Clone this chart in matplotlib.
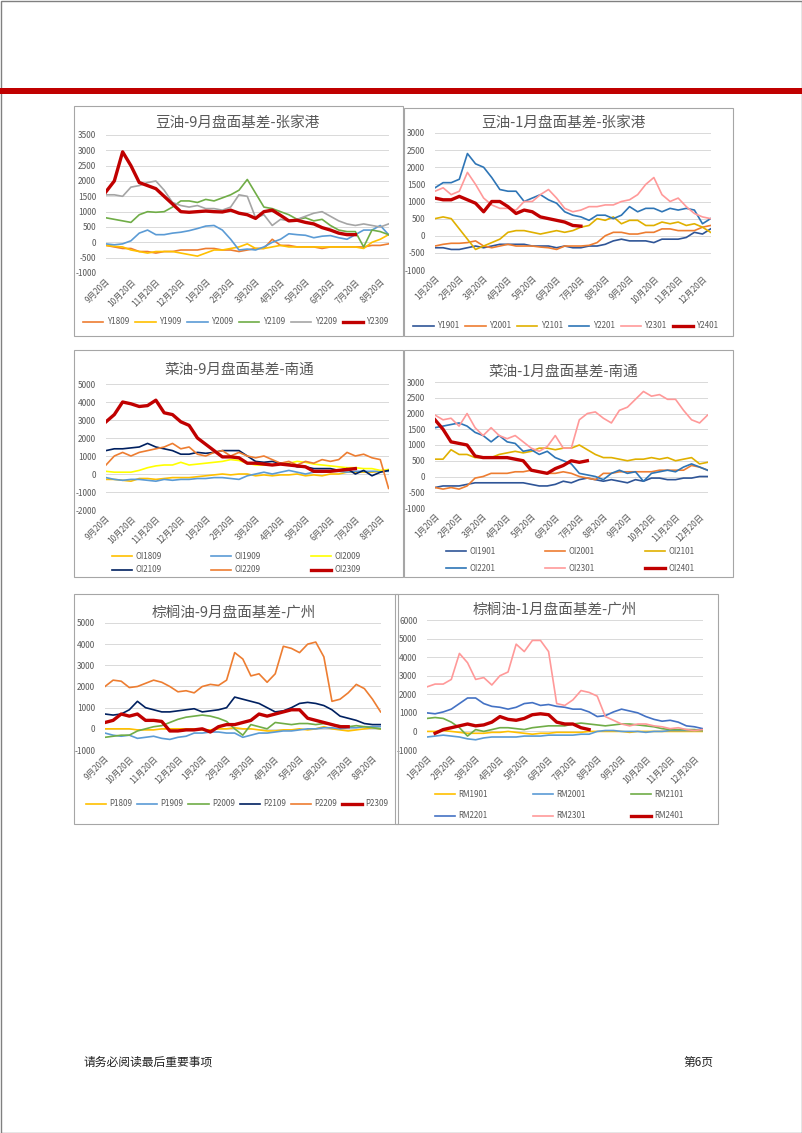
import numpy as np
import matplotlib
matplotlib.use("Agg")
import matplotlib.pyplot as plt
from matplotlib.patches import Rectangle

plt.rcParams['font.family'] = ['Noto Sans CJK SC', 'DejaVu Sans']
plt.rcParams['axes.unicode_minus'] = False

W, H = 802, 1133
RED = '#C00000'

sep_ticks = ['9月20日', '10月20日', '11月20日', '12月20日', '1月20日', '2月20日',
             '3月20日', '4月20日', '5月20日', '6月20日', '7月20日', '8月20日']
jan_ticks = ['1月20日', '2月20日', '3月20日', '4月20日', '5月20日', '6月20日',
             '7月20日', '8月20日', '9月20日', '10月20日', '11月20日', '12月20日']

# 豆油-9月 (one value every ~10 days)
y1809 = [-100, -150, -200, -200, -300, -300, -350, -300, -300, -250, -250, -250, -200, -200, -250, -250, -300, -250,
         -200, -200, 100, -100, -100, -150, -150, -150, -200, -150, -150, -150, -150, -150, -100, -100, -50]
y1909 = [-100, -130, -150, -250, -300, -350, -300, -300, -300, -350, -400, -450, -350, -250, -250, -200, -150, -50,
         -200, -200, -150, -100, -150, -150, -150, -150, -150, -150, -150, -150, -150, -200, 0, 100, 250]
y2009 = [-50, -80, -50, 50, 300, 400, 250, 250, 300, 330, 380, 450, 530, 550, 400, 100, -250, -220,
         -250, -150, 0, 100, 280, 250, 230, 150, 200, 220, 150, 100, 250, 400, 400, 550, 250]
y2109 = [800, 750, 700, 650, 900, 1000, 980, 1000, 1150, 1350, 1350, 1300, 1400, 1350, 1450, 1550, 1700, 2050,
         1600, 1150, 1100, 1000, 900, 750, 800, 700, 750, 550, 400, 350, 350, -150, 400, 350, 250]
y2209 = [1550, 1550, 1500, 1800, 1850, 1950, 2000, 1700, 1300, 1200, 1150, 1200, 1100, 1100, 1050, 1150, 1550, 1500,
         800, 900, 550, 750, 700, 750, 850, 950, 1000, 850, 700, 600, 550, 600, 550, 500, 600]
y2309 = [1650, 2000, 2950, 2500, 1950, 1850, 1750, 1500, 1250, 1000, 980, 1000, 1020, 1000, 990, 1050, 950, 900,
         780, 1000, 1050, 880, 700, 720, 650, 600, 480, 400, 300, 250, 250]

# 豆油-1月
y1901 = [-350, -350, -400, -400, -350, -300, -350, -300, -250, -250, -250, -250, -300, -300, -300, -350, -300, -350,
         -350, -300, -300, -250, -150, -100, -150, -150, -150, -200, -100, -100, -100, -50, 100, 50, 200]
y2001 = [-300, -250, -220, -220, -200, -150, -300, -350, -300, -250, -300, -300, -300, -330, -350, -400, -300, -300,
         -300, -280, -200, 0, 100, 100, 50, 50, 100, 100, 200, 200, 150, 150, 150, 250, 300]
y2101 = [500, 550, 500, 200, -100, -400, -300, -200, -100, 100, 150, 150, 100, 50, 100, 150, 100, 150,
         250, 300, 500, 450, 550, 350, 450, 450, 300, 300, 400, 350, 400, 300, 350, 250, 100]
y2201 = [1400, 1550, 1550, 1650, 2400, 2100, 2000, 1700, 1350, 1300, 1300, 1000, 1100, 1200, 1050, 950, 700, 600,
         550, 450, 600, 600, 500, 600, 850, 700, 800, 800, 700, 800, 750, 800, 750, 350, 500]
y2301 = [1300, 1400, 1200, 1300, 1850, 1500, 1100, 900, 800, 800, 750, 1000, 1000, 1200, 1350, 1100, 800, 700,
         750, 850, 850, 900, 900, 1000, 1050, 1200, 1500, 1700, 1200, 1000, 1100, 850, 650, 550, 500]
y2401 = [1100, 1050, 1050, 1150, 1050, 950, 700, 1000, 1000, 850, 650, 750, 700, 550, 500, 450, 400, 300, 280]

# 菜油-9月
oi1809 = [-300, -300, -350, -400, -250, -250, -300, -250, -200, -200, -200, -150, -100, -50, 0, -50, 0, 0,
          -100, -50, -100, -50, -50, 0, -100, -50, -100, 0, 0, 100, 100, 100, 100, 150, 200]
oi1909 = [-200, -300, -350, -300, -300, -350, -400, -300, -350, -300, -300, -250, -250, -200, -200, -250, -300, -100,
          0, 100, 0, 100, 200, 100, 0, 100, 100, 150, 150, 100, 150, 150, 150, 150, 150]
oi2009 = [150, 100, 100, 100, 200, 350, 450, 500, 500, 650, 500, 550, 600, 650, 700, 800, 750, 600,
          500, 500, 500, 550, 600, 700, 650, 550, 500, 450, 400, 350, 350, 300, 300, 200, 250]
oi2109 = [1300, 1400, 1400, 1450, 1500, 1700, 1500, 1400, 1300, 1100, 1100, 1200, 1150, 1200, 1300, 1300, 1300, 1000,
          700, 650, 700, 600, 550, 400, 400, 300, 300, 300, 200, 300, 0, 200, -100, 100, 200]
oi2209 = [500, 1000, 1200, 1000, 1200, 1300, 1400, 1500, 1700, 1400, 1500, 1100, 1000, 1200, 1300, 1000, 1200, 1000,
          900, 1000, 800, 600, 700, 500, 700, 600, 800, 700, 800, 1200, 1000, 1100, 900, 800, -800]
oi2309 = [2900, 3300, 4000, 3900, 3750, 3800, 4100, 3400, 3300, 2900, 2700, 2000, 1650, 1300, 950, 950, 900, 600,
          600, 550, 500, 550, 500, 450, 400, 150, 150, 150, 200, 250, 300]

# 菜油-1月
oi1901 = [-350, -300, -300, -300, -250, -200, -200, -200, -200, -200, -200, -200, -250, -300, -300, -250, -150, -200,
          -100, -50, -100, -150, -100, -150, -200, -100, -150, -50, -50, -100, -100, -50, -50, 0, 0]
oi2001 = [-350, -400, -350, -400, -300, -50, 0, 100, 100, 100, 150, 150, 200, 150, 100, 100, 150, 100,
          0, -50, -100, 100, 100, 150, 150, 150, 150, 150, 200, 200, 200, 200, 350, 300, 200]
oi2101 = [550, 550, 850, 700, 700, 600, 600, 600, 700, 750, 800, 750, 800, 900, 900, 850, 900, 900,
          1000, 850, 700, 600, 600, 550, 500, 550, 550, 600, 550, 600, 500, 550, 600, 400, 450]
oi2201 = [1550, 1600, 1650, 1700, 1600, 1400, 1300, 1100, 1300, 1100, 1050, 800, 850, 700, 800, 600, 500, 400,
          100, 50, 0, -100, 100, 200, 100, 150, -150, 100, 150, 200, 150, 300, 400, 300, 200]
oi2301 = [1950, 1800, 1850, 1600, 2000, 1550, 1300, 1550, 1300, 1200, 1300, 1100, 900, 800, 950, 1300, 900, 900,
          1800, 2000, 2050, 1850, 1700, 2100, 2200, 2450, 2700, 2550, 2600, 2450, 2450, 2100, 1800, 1700, 1950]
oi2401 = [1800, 1500, 1100, 1050, 1000, 650, 600, 600, 600, 600, 550, 500, 200, 150, 100, 250, 350, 500, 450, 500]

# 棕榈油-9月
p1809 = [0, 0, 0, 0, -50, -50, -50, 0, 0, 0, 0, 0, -50, -50, 0, 0, 50, 0,
         0, -50, -100, -100, -50, -50, 0, -50, 0, 100, 0, -50, -100, -50, 0, 50, 0]
p1909 = [-200, -300, -350, -300, -450, -400, -350, -450, -500, -400, -350, -200, -200, -150, -150, -200, -200, -400,
         -300, -200, -200, -150, -100, -100, -50, 0, 0, 50, 50, 0, 50, 50, 100, 100, 100]
p2009 = [-400, -350, -300, -300, -100, 0, 100, 150, 300, 450, 550, 600, 650, 600, 500, 350, 0, -300,
         200, 100, 0, 300, 250, 200, 250, 250, 200, 250, 200, 150, 100, 150, 100, 50, 0]
p2109 = [700, 650, 700, 900, 1300, 1000, 900, 800, 800, 850, 900, 950, 800, 850, 900, 1000, 1500, 1400,
         1300, 1200, 1000, 800, 850, 1000, 1200, 1250, 1200, 1100, 900, 600, 500, 400, 250, 200, 200]
p2209 = [2000, 2300, 2250, 1950, 2000, 2150, 2300, 2200, 2000, 1750, 1800, 1700, 2000, 2100, 2050, 2300, 3600, 3300,
         2500, 2600, 2200, 2600, 3900, 3800, 3600, 4000, 4100, 3400, 1300, 1400, 1700, 2100, 1900, 1400, 800]
p2309 = [300, 400, 700, 600, 700, 400, 400, 350, -100, -100, -50, -50, 0, -150, 100, 200, 200, 300,
         400, 700, 600, 700, 800, 900, 900, 500, 400, 300, 200, 100, 100]

# 棕榈油-1月
rm1901 = [0, 0, 50, 0, -50, -100, -100, -100, -50, -50, 0, -50, -100, -150, -100, -100, -50, -50,
          -50, -50, 0, 0, 0, 0, 0, -50, 0, 0, 0, 0, 0, 0, 0, 0, 0]
rm2001 = [-300, -250, -200, -250, -300, -400, -450, -350, -300, -300, -300, -300, -250, -250, -250, -200, -200, -200,
          -200, -150, -150, 0, 50, 50, 0, 0, 0, -50, 0, 0, 50, 50, 50, 50, 50]
rm2101 = [700, 750, 700, 500, 200, -250, 100, 0, 100, 200, 200, 150, 100, 200, 250, 300, 300, 300,
          400, 450, 400, 350, 300, 350, 400, 400, 350, 300, 250, 150, 100, 100, 100, 100, 50]
rm2201 = [1000, 950, 1050, 1200, 1500, 1800, 1800, 1500, 1350, 1300, 1200, 1300, 1500, 1550, 1400, 1450, 1350, 1300,
          1200, 1200, 1050, 800, 850, 1050, 1200, 1100, 1000, 800, 650, 550, 600, 500, 300, 250, 150]
rm2301 = [2400, 2550, 2550, 2800, 4200, 3700, 2800, 2900, 2500, 3000, 3200, 4700, 4300, 4900, 4900, 4300, 1500, 1400,
          1700, 2200, 2100, 1900, 800, 600, 400, 300, 400, 400, 300, 250, 150, 200, 100, 50, 100]
rm2401 = [np.nan, -100, 100, 200, 300, 400, 300, 350, 500, 800, 650, 600, 700, 900, 950, 900, 500, 400, 400, 200, 100]


fig = plt.figure(figsize=(W / 100, H / 100), dpi=100)


def rect(l, t, r, b):
    return [l / W, 1 - b / H, (r - l) / W, (b - t) / H]


def box(l, t, r, b, color='#A6A6A6', lw=0.8):
    fig.patches.append(Rectangle((l / W, 1 - b / H), (r - l) / W, (b - t) / H, transform=fig.transFigure,
                                 fill=False, edgecolor=color, lw=lw))


def panel(frame, area, title, title_xy, ticks, names, series, colors, ylim, ystep, leg_xy, ncol, colsp, rowsp=0.5):
    box(*frame)
    ax = fig.add_axes(rect(*area))
    handles = []
    for name, vals, c in zip(names, series, colors):
        lw = 2.4 if c == RED else 1.2
        h, = ax.plot(np.arange(len(vals)) / 3.0, vals, color=c, lw=lw, label=name, solid_joinstyle='round')
        handles.append(h)
    ax.set_xlim(0, 11.35)
    ax.set_ylim(*ylim)
    ax.set_yticks(np.arange(ylim[0], ylim[1] + 1, ystep))
    ax.set_xticks(range(12))
    ax.set_xticklabels(ticks, rotation=45, ha='right', rotation_mode='anchor')
    ax.tick_params(length=0, labelsize=6, labelcolor='#595959', pad=3)
    ax.tick_params(axis='y', pad=7)
    ax.grid(axis='y', color='#D9D9D9', lw=0.7)
    ax.set_axisbelow(True)
    for s in ax.spines.values():
        s.set_visible(False)
    fig.text(title_xy[0] / W, 1 - title_xy[1] / H, title, ha='center', va='center', fontsize=10.5, color='#595959')
    if ncol == 3:
        handles = [handles[i] for i in (0, 3, 1, 4, 2, 5)]
    ax.legend(handles=handles, loc='center', bbox_to_anchor=(leg_xy[0] / W, 1 - leg_xy[1] / H),
              bbox_transform=fig.transFigure, ncol=ncol, frameon=False, fontsize=5.8, handlelength=2.5,
              handletextpad=0.4, columnspacing=colsp, labelspacing=rowsp, labelcolor='#595959')
    return ax


# page frame, red band, footer
box(0.5, 0.5, W - 0.5, H - 0.5, color='#808080', lw=1)
fig.patches.append(Rectangle((0, 1 - 94 / H), 1, 6 / H, transform=fig.transFigure, color=RED, lw=0))
fig.text(84 / W, 1 - 1062 / H, '请务必阅读最后重要事项', fontsize=8.5, va='center', color='#222222')
fig.text(683 / W, 1 - 1062 / H, '第6页', fontsize=8.5, va='center', color='#222222')

panel((74, 106, 403, 336), (106, 135, 389, 273), '豆油-9月盘面基差-张家港', (237, 123), sep_ticks,
      ['Y1809', 'Y1909', 'Y2009', 'Y2109', 'Y2209', 'Y2309'],
      [y1809, y1909, y2009, y2109, y2209, y2309],
      ['#ED7D31', '#FFC000', '#5B9BD5', '#70AD47', '#A5A5A5', RED],
      (-1000, 3500), 500, (236, 322), 6, 0.8)

panel((404, 108, 733, 336), (435, 133, 711, 270), '豆油-1月盘面基差-张家港', (563, 123), jan_ticks,
      ['Y1901', 'Y2001', 'Y2101', 'Y2201', 'Y2301', 'Y2401'],
      [y1901, y2001, y2101, y2201, y2301, y2401],
      ['#2F5597', '#ED7D31', '#E0B000', '#2E75B6', '#FF9999', RED],
      (-1000, 3000), 500, (566, 326), 6, 0.8)

panel((74, 350, 403, 577), (106, 384, 389, 510), '菜油-9月盘面基差-南通', (239, 370), sep_ticks,
      ['OI1809', 'OI1909', 'OI2009', 'OI2109', 'OI2209', 'OI2309'],
      [oi1809, oi1909, oi2009, oi2109, oi2209, oi2309],
      ['#FFC000', '#5B9BD5', '#FFFF00', '#002060', '#ED7D31', RED],
      (-2000, 5000), 1000, (236, 563), 3, 6.2, 0.6)

panel((404, 350, 733, 577), (435, 382, 708, 508), '菜油-1月盘面基差-南通', (563, 372), jan_ticks,
      ['OI1901', 'OI2001', 'OI2101', 'OI2201', 'OI2301', 'OI2401'],
      [oi1901, oi2001, oi2101, oi2201, oi2301, oi2401],
      ['#2F5597', '#ED7D31', '#E0B000', '#2E75B6', '#FF9999', RED],
      (-1000, 3000), 500, (570, 560), 3, 6.2, 1.0)

panel((74, 594, 398, 824), (105, 623, 381, 750), '棕榈油-9月盘面基差-广州', (234, 613), sep_ticks,
      ['P1809', 'P1909', 'P2009', 'P2109', 'P2209', 'P2309'],
      [p1809, p1909, p2009, p2109, p2209, p2309],
      ['#FFC000', '#5B9BD5', '#70AD47', '#002060', '#ED7D31', RED],
      (-1000, 5000), 1000, (237, 804), 6, 0.6)

panel((395, 594, 718, 824), (427, 620, 703, 750), '棕榈油-1月盘面基差-广州', (555, 610), jan_ticks,
      ['RM1901', 'RM2001', 'RM2101', 'RM2201', 'RM2301', 'RM2401'],
      [rm1901, rm2001, rm2101, rm2201, rm2301, rm2401],
      ['#FFC000', '#5B9BD5', '#70AD47', '#4472C4', '#FF9999', RED],
      (-1000, 6000), 1000, (559, 805), 3, 5.6, 1.6)

fig.savefig('out.png', dpi=100)
